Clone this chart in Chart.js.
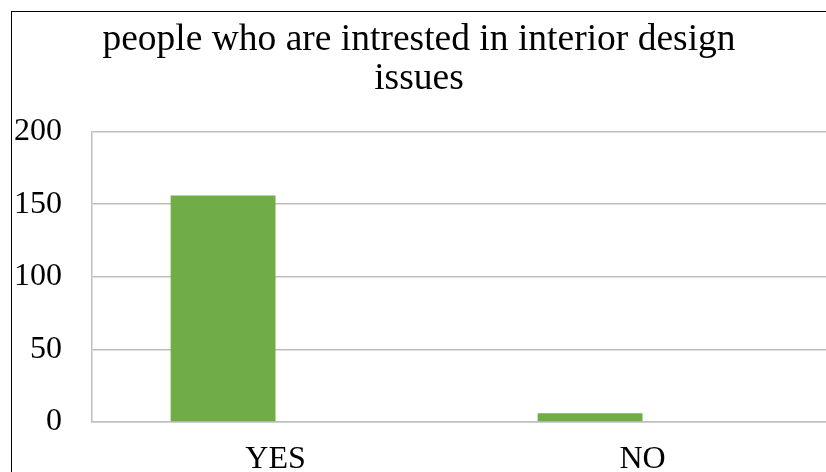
<!DOCTYPE html>
<html>
<head>
<meta charset="utf-8">
<script src="https://cdn.jsdelivr.net/npm/chart.js@4"></script>
<style>
  html, body { margin: 0; padding: 0; background: #fff; overflow: hidden; }
  #frame {
    position: absolute;
    left: 11px;
    top: 11px;
    border-left: 1px solid #000;
    border-top: 1px solid #000;
  }
  #chart { display: block; }
</style>
</head>
<body>
<div id="frame">
  <canvas id="chart" width="823" height="470"></canvas>
</div>
<script>
const titleLines = ["people who are intrested in interior design", "issues"];
const categories = ["YES", "NO"];
const answers = [156, 6];
const emptySeries = [null, null];
const yTicks = [0, 50, 100, 150, 200];

const serif = "'Liberation Serif', 'Times New Roman', serif";

const ctx = document.getElementById("chart").getContext("2d");
new Chart(ctx, {
  type: "bar",
  data: {
    labels: categories,
    datasets: [
      {
        label: "people",
        data: answers,
        backgroundColor: "#70AD47",
        borderWidth: 0,
      },
      {
        label: "",
        data: emptySeries,
        backgroundColor: "#ED7D31",
        borderWidth: 0,
      },
    ],
  },
  options: {
    responsive: false,
    animation: false,
    devicePixelRatio: 1,
    categoryPercentage: 2 / 3.5,
    barPercentage: 1,
    layout: { padding: { left: 0, right: 9, top: 0, bottom: 0 } },
    plugins: {
      legend: { display: false },
      tooltip: { enabled: false },
      title: {
        display: true,
        text: titleLines,
        color: "#000",
        font: { family: serif, size: 37.5, weight: "normal", lineHeight: 1.06 },
        padding: { top: 8, bottom: 32 },
      },
    },
    scales: {
      x: {
        grid: { display: false, drawTicks: false },
        border: { display: true, color: "#bfbfbf", width: 1.5 },
        ticks: {
          color: "#000",
          padding: 18,
          font: { family: serif, size: 32 },
        },
        afterFit: (scale) => {
          scale.height = 60;
        },
      },
      y: {
        min: yTicks[0],
        max: yTicks[yTicks.length - 1],
        afterBuildTicks: (scale) => {
          scale.ticks = yTicks.map((v) => ({ value: v }));
        },
        grid: { color: "#bfbfbf", lineWidth: 1.5, drawTicks: false },
        border: { display: true, color: "#bfbfbf", width: 1.5 },
        ticks: {
          color: "#000",
          padding: 30,
          font: { family: serif, size: 32 },
        },
        afterFit: (scale) => {
          scale.width = 80;
        },
      },
    },
  },
});
</script>
</body>
</html>
